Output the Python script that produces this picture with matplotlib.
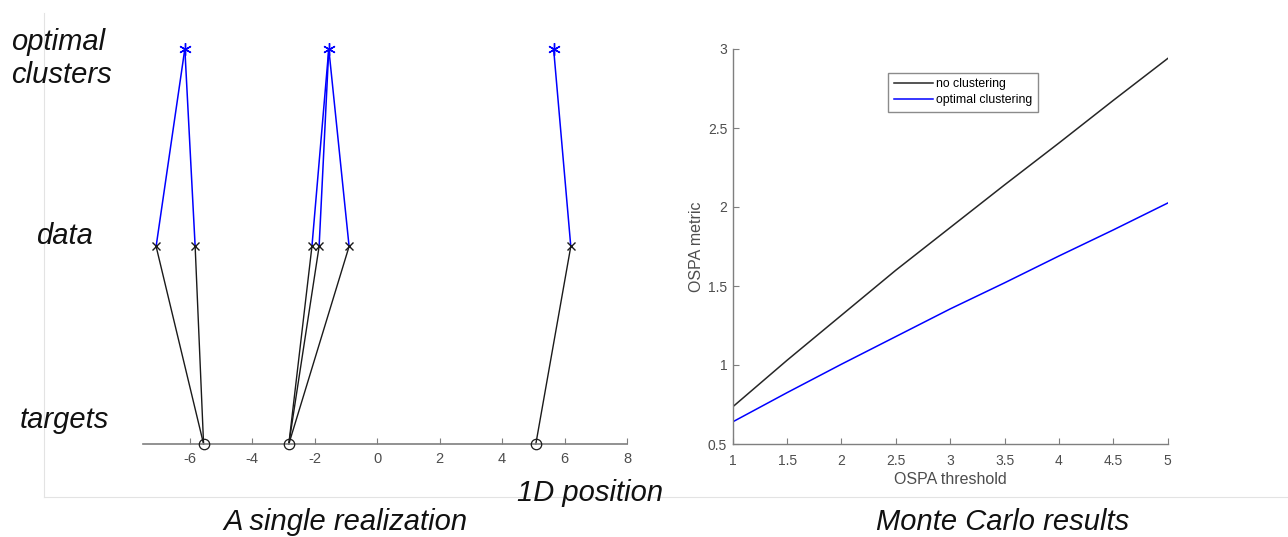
import numpy as np
import matplotlib.pyplot as plt
from matplotlib.lines import Line2D

plt.rcParams["font.family"] = ["Liberation Sans", "DejaVu Sans"]

# --- Left panel: one realization (1D positions) ---
targets = [-5.56, -2.83, 5.08]
data = [-7.08, -5.83, -2.09, -1.86, -0.90, 6.20]
clusters = [-6.16, -1.55, 5.65]
# which target / cluster each data point belongs to
data_target = [0, 0, 1, 1, 1, 2]
data_cluster = [0, 0, 1, 1, 1, 2]
left_xticks = [-6, -4, -2, 0, 2, 4, 6, 8]

# --- Right panel: Monte Carlo results ---
threshold = [1.0, 1.5, 2.0, 2.5, 3.0, 3.5, 4.0, 4.5, 5.0]
no_clustering = [0.735, 1.03, 1.315, 1.60, 1.87, 2.14, 2.405, 2.675, 2.94]
optimal_clustering = [0.64, 0.825, 1.005, 1.18, 1.355, 1.52, 1.69, 1.855, 2.025]

W, H = 1288, 537
fig = plt.figure(figsize=(W / 100, H / 100), dpi=100)

tick_col = "#4d4d4d"
spine_col = "#7f7f7f"

# faint panel border from the source slide
fig.add_artist(Line2D([44 / W, 44 / W], [1 - 13 / H, 1 - 497 / H],
                      color="#e3e3e3", lw=0.8))
fig.add_artist(Line2D([44 / W, 1.0], [1 - 497 / H, 1 - 497 / H],
                      color="#e3e3e3", lw=0.8))

# --- Left axes ---
ax1 = fig.add_axes([143 / W, 1 - 444 / H, 484 / W, 405 / H])
ax1.set_xlim(-7.5, 8)
ax1.set_ylim(0, 2.05)

for d, t in zip(data, data_target):
    ax1.plot([targets[t], d], [0, 1], color="#1a1a1a", lw=1.0, clip_on=False)
for d, c in zip(data, data_cluster):
    ax1.plot([d, clusters[c]], [1, 2], color="#0000ff", lw=1.1, clip_on=False)

ax1.plot(targets, [0] * len(targets), "o", ms=7.5, mfc="none", mec="#1a1a1a",
         mew=0.9, clip_on=False, zorder=5)
ax1.plot(data, [1] * len(data), "x", ms=6, color="#1a1a1a", mew=1.0,
         clip_on=False, zorder=5)
ax1.plot(clusters, [2] * len(clusters), marker=(6, 2, 0), ls="none", ms=9,
         color="#0000ff", mew=1.0, clip_on=False, zorder=5)

for s in ("left", "top", "right"):
    ax1.spines[s].set_visible(False)
ax1.spines["bottom"].set_color(spine_col)
ax1.spines["bottom"].set_linewidth(1.2)
ax1.set_yticks([])
ax1.set_xticks(left_xticks)
ax1.set_xticklabels([str(v) for v in left_xticks])
ax1.tick_params(axis="x", direction="in", length=4, color=spine_col,
                labelsize=10.5, labelcolor=tick_col, pad=6)

it = dict(fontsize=21, style="italic", color="#111111")
fig.text(11 / W, 1 - 42 / H, "optimal", ha="left", va="center", **it)
fig.text(11 / W, 1 - 75 / H, "clusters", ha="left", va="center", **it)
fig.text(64 / W, 1 - 236 / H, "data", ha="center", va="center", **it)
fig.text(64 / W, 1 - 420 / H, "targets", ha="center", va="center", **it)
fig.text(590 / W, 1 - 493 / H, "1D position", ha="center", va="center", **it)
fig.text(345 / W, 1 - 522 / H, "A single realization", ha="center",
         va="center", **it)
fig.text(1003 / W, 1 - 522 / H, "Monte Carlo results", ha="center",
         va="center", **it)

# --- Right axes ---
ax2 = fig.add_axes([732.7 / W, 1 - 444 / H, 435 / W, 395 / H])
ax2.plot(threshold, no_clustering, color="#262626", lw=1.1,
         label="no clustering")
ax2.plot(threshold, optimal_clustering, color="#0000ff", lw=1.1,
         label="optimal clustering")
ax2.set_xlim(1, 5)
ax2.set_ylim(0.5, 3)
ax2.set_xticks([1, 1.5, 2, 2.5, 3, 3.5, 4, 4.5, 5])
ax2.set_xticklabels(["1", "1.5", "2", "2.5", "3", "3.5", "4", "4.5", "5"])
ax2.set_yticks([0.5, 1, 1.5, 2, 2.5, 3])
ax2.set_yticklabels(["0.5", "1", "1.5", "2", "2.5", "3"])
for s in ("top", "right"):
    ax2.spines[s].set_visible(False)
for s in ("left", "bottom"):
    ax2.spines[s].set_color(spine_col)
    ax2.spines[s].set_linewidth(1.0)
ax2.tick_params(direction="in", length=4, color=spine_col, labelsize=10,
                labelcolor=tick_col)
ax2.tick_params(axis="x", pad=7)
ax2.tick_params(axis="y", pad=4)
ax2.set_xlabel("OSPA threshold", fontsize=11.5, color=tick_col, labelpad=3)
ax2.set_ylabel("OSPA metric", fontsize=11.5, color=tick_col)
ax2.yaxis.set_label_coords(-0.066, 0.5)

leg = ax2.legend(loc="upper left", bbox_to_anchor=(0.343, 0.955),
                 fontsize=8.8, frameon=True, fancybox=False,
                 handlelength=3.2, handletextpad=0.3, borderpad=0.45,
                 labelspacing=0.3)
leg.get_frame().set_edgecolor("#6e6e6e")
leg.get_frame().set_linewidth(1.0)

fig.savefig("out.png", dpi=100)
